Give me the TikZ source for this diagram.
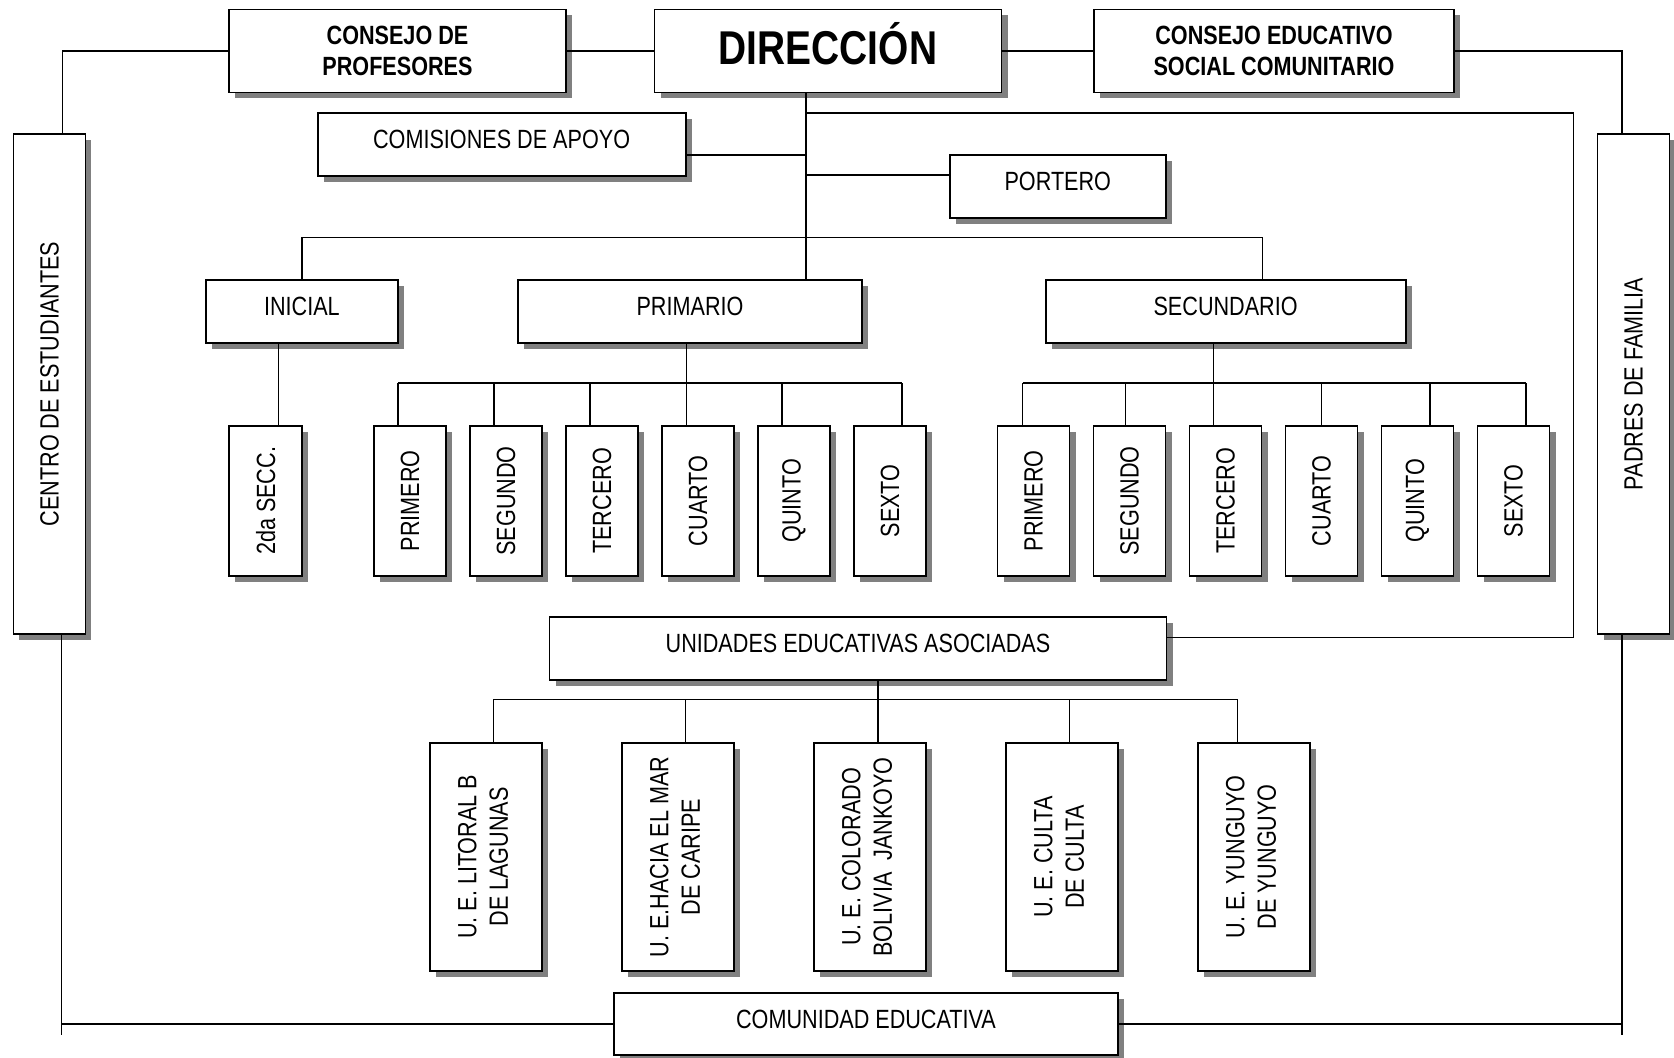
\documentclass[tikz,border=0pt]{standalone}
\usepackage{fontspec}
\setmainfont{Liberation Sans}[FakeStretch=0.82]
\usepackage{graphicx}
\usetikzlibrary{shadows,calc}

\newcommand{\vtxt}[1]{\rotatebox{90}{#1}}
\newcommand{\vdos}[2]{\rotatebox{90}{\begin{tabular}{@{}c@{}}#1\\#2\end{tabular}}}

\begin{document}
\begin{tikzpicture}[x=0.02cm, y=-0.02cm,
    caja/.style 2 args={draw=black, line width=1.1pt, fill=white, inner sep=0pt,
      minimum width=#1*0.02cm, minimum height=#2*0.02cm,
      drop shadow={shadow xshift=0.12cm, shadow yshift=-0.12cm, fill=black!50, opacity=1},
      font=\fontsize{15}{18}\selectfont},
    fila/.style={text height=0.4cm, text depth=0.236cm},
    negrita/.style={align=center, font=\fontsize{15}{18}\selectfont\bfseries},
    linea/.style={line width=0.75pt}]
    \useasboundingbox (0,0) rectangle (1674,1058);

    \node[caja={337}{83}, negrita] (conprof) at (397.5,51) {CONSEJO DE\\PROFESORES};
    \node[caja={347}{83}, text height=0.8cm, text depth=0.248cm, font=\fontsize{27}{32}\selectfont\bfseries] (direccion) at (828,51) {DIRECCIÓN};
    \node[caja={360}{83}, negrita] (consejoedu) at (1274,51) {CONSEJO EDUCATIVO\\SOCIAL COMUNITARIO};
    \node[caja={72}{500}] (centro) at (49.5,384) {\vtxt{CENTRO DE ESTUDIANTES}};
    \node[caja={72}{500}] (padres) at (1633.5,384) {\vtxt{PADRES DE FAMILIA}};
    \node[caja={368}{63}, fila] (comisiones) at (501.6,144.7) {COMISIONES DE APOYO};
    \node[caja={216}{63}, fila] (portero) at (1057.8,186.5) {PORTERO};
    \node[caja={192}{63}, fila] (inicial) at (301.9,311.3) {INICIAL};
    \node[caja={344}{63}, fila] (primario) at (690,311.3) {PRIMARIO};
    \node[caja={360}{63}, fila] (secundario) at (1225.6,311.3) {SECUNDARIO};
    \node[caja={73}{150}] (secc) at (265.8,500.9) {\vtxt{2da SECC.}};

    \node[caja={72}{150}] (p1) at (410,500.9) {\vtxt{PRIMERO}};
    \node[caja={72}{150}] (p2) at (506,500.9) {\vtxt{SEGUNDO}};
    \node[caja={72}{150}] (p3) at (602,500.9) {\vtxt{TERCERO}};
    \node[caja={72}{150}] (p4) at (698,500.9) {\vtxt{CUARTO}};
    \node[caja={72}{150}] (p5) at (794,500.9) {\vtxt{QUINTO}};
    \node[caja={72}{150}] (p6) at (890,500.9) {\vtxt{SEXTO}};

    \node[caja={72}{150}] (s1) at (1033.5,500.9) {\vtxt{PRIMERO}};
    \node[caja={72}{150}] (s2) at (1129.5,500.9) {\vtxt{SEGUNDO}};
    \node[caja={72}{150}] (s3) at (1225.5,500.9) {\vtxt{TERCERO}};
    \node[caja={72}{150}] (s4) at (1321.5,500.9) {\vtxt{CUARTO}};
    \node[caja={72}{150}] (s5) at (1417.5,500.9) {\vtxt{QUINTO}};
    \node[caja={72}{150}] (s6) at (1513.5,500.9) {\vtxt{SEXTO}};

    \node[caja={617}{63}, fila] (unidades) at (858,648.7) {UNIDADES EDUCATIVAS ASOCIADAS};
    \node[caja={112}{228}] (ue1) at (485.8,856.9) {\vdos{U. E. LITORAL B}{DE LAGUNAS}};
    \node[caja={112}{228}] (ue2) at (677.8,856.9) {\vdos{U. E.HACIA EL MAR}{DE CARIPE}};
    \node[caja={112}{228}] (ue3) at (869.8,856.9) {\vdos{U. E. COLORADO}{BOLIVIA~~JANKOYO}};
    \node[caja={112}{228}] (ue4) at (1061.8,856.9) {\vdos{U. E. CULTA}{DE CULTA}};
    \node[caja={112}{228}] (ue5) at (1253.8,856.9) {\vdos{U. E. YUNGUYO}{DE YUNGUYO}};
    \node[caja={504}{62}, fila] (comunidad) at (866,1023.9) {COMUNIDAD EDUCATIVA};

    \coordinate (tronco) at (806,237.3);
    \coordinate (lazo) at (1573.5,113);
    \coordinate (ci) at ($(centro.south)+(12.1,0)$);
    \coordinate (pd) at ($(padres.south)+(-11.5,0)$);
    \coordinate (ca) at ($(comisiones.east)+(0,10.3)$);
    \coordinate (pa) at ($(portero.west)+(0,-11.5)$);
    \coordinate (ua) at ($(unidades.east)+(0,-11)$);
    \coordinate (ia) at ($(inicial.south)+(-23.5,0)$);
    \coordinate (pb) at ($(primario.south)+(-3.5,0)$);
    \coordinate (sb) at ($(secundario.south)+(-11.9,0)$);
    \coordinate (ub) at ($(unidades.south)+(20,0)$);

    \draw[linea] (conprof.west) -| ($(centro.north)+(13.2,0)$);
    \draw[linea] (conprof.east) -- (direccion.west);
    \draw[linea] (direccion.east) -- (consejoedu.west);
    \draw[linea] (consejoedu.east) -| ($(padres.north)+(-11.5,0)$);
    \draw[linea] (tronco |- direccion.south) -- (tronco |- primario.north);
    \draw[linea] (ca) -- (ca -| tronco);
    \draw[linea] (pa) -- (pa -| tronco);
    \draw[linea] (ua) -| (lazo) -- (lazo -| tronco);
    \draw[linea] (inicial.north) |- (1262.2,237.3) -- (1262.2,280);
    \draw[linea] (ia) -- (ia |- secc.north);

    \draw[linea] (pb) -- (pb |- p4.north);
    \draw[linea] ($(p1.north)+(-12,-42)$) -- ($(p6.north)+(12,-42)$);
    \draw[linea] ($(p1.north)+(-12,0)$) -- ++(0,-42);
    \draw[linea] ($(p2.north)+(-12,0)$) -- ++(0,-42);
    \draw[linea] ($(p3.north)+(-12,0)$) -- ++(0,-42);
    \draw[linea] ($(p5.north)+(-12,0)$) -- ++(0,-42);
    \draw[linea] ($(p6.north)+(12,0)$) -- ++(0,-42);

    \draw[linea] (sb) -- (sb |- s3.north);
    \draw[linea] ($(s1.north)+(-11,-42)$) -- ($(s6.north)+(12.5,-42)$);
    \draw[linea] ($(s1.north)+(-11,0)$) -- ++(0,-42);
    \draw[linea] ($(s2.north)+(-4,0)$) -- ++(0,-42);
    \draw[linea] (s4.north) -- ++(0,-42);
    \draw[linea] ($(s5.north)+(12.5,0)$) -- ++(0,-42);
    \draw[linea] ($(s6.north)+(12.5,0)$) -- ++(0,-42);

    \draw[linea] (ub) -- (ub |- ue3.north);
    \draw[linea] ($(ue1.north)+(8,-42.7)$) -- ($(ue5.north)+(-16,-42.7)$);
    \draw[linea] ($(ue1.north)+(8,0)$) -- ++(0,-42.7);
    \draw[linea] ($(ue2.north)+(8,0)$) -- ++(0,-42.7);
    \draw[linea] ($(ue4.north)+(8,0)$) -- ++(0,-42.7);
    \draw[linea] ($(ue5.north)+(-16,0)$) -- ++(0,-42.7);

    \draw[linea] (ci) -- ++(0,400);
    \draw[linea] (comunidad.west) -- (comunidad.west -| ci);
    \draw[linea] (pd) -- ++(0,400);
    \draw[linea] (comunidad.east) -- (comunidad.east -| pd);
\end{tikzpicture}
\end{document}
